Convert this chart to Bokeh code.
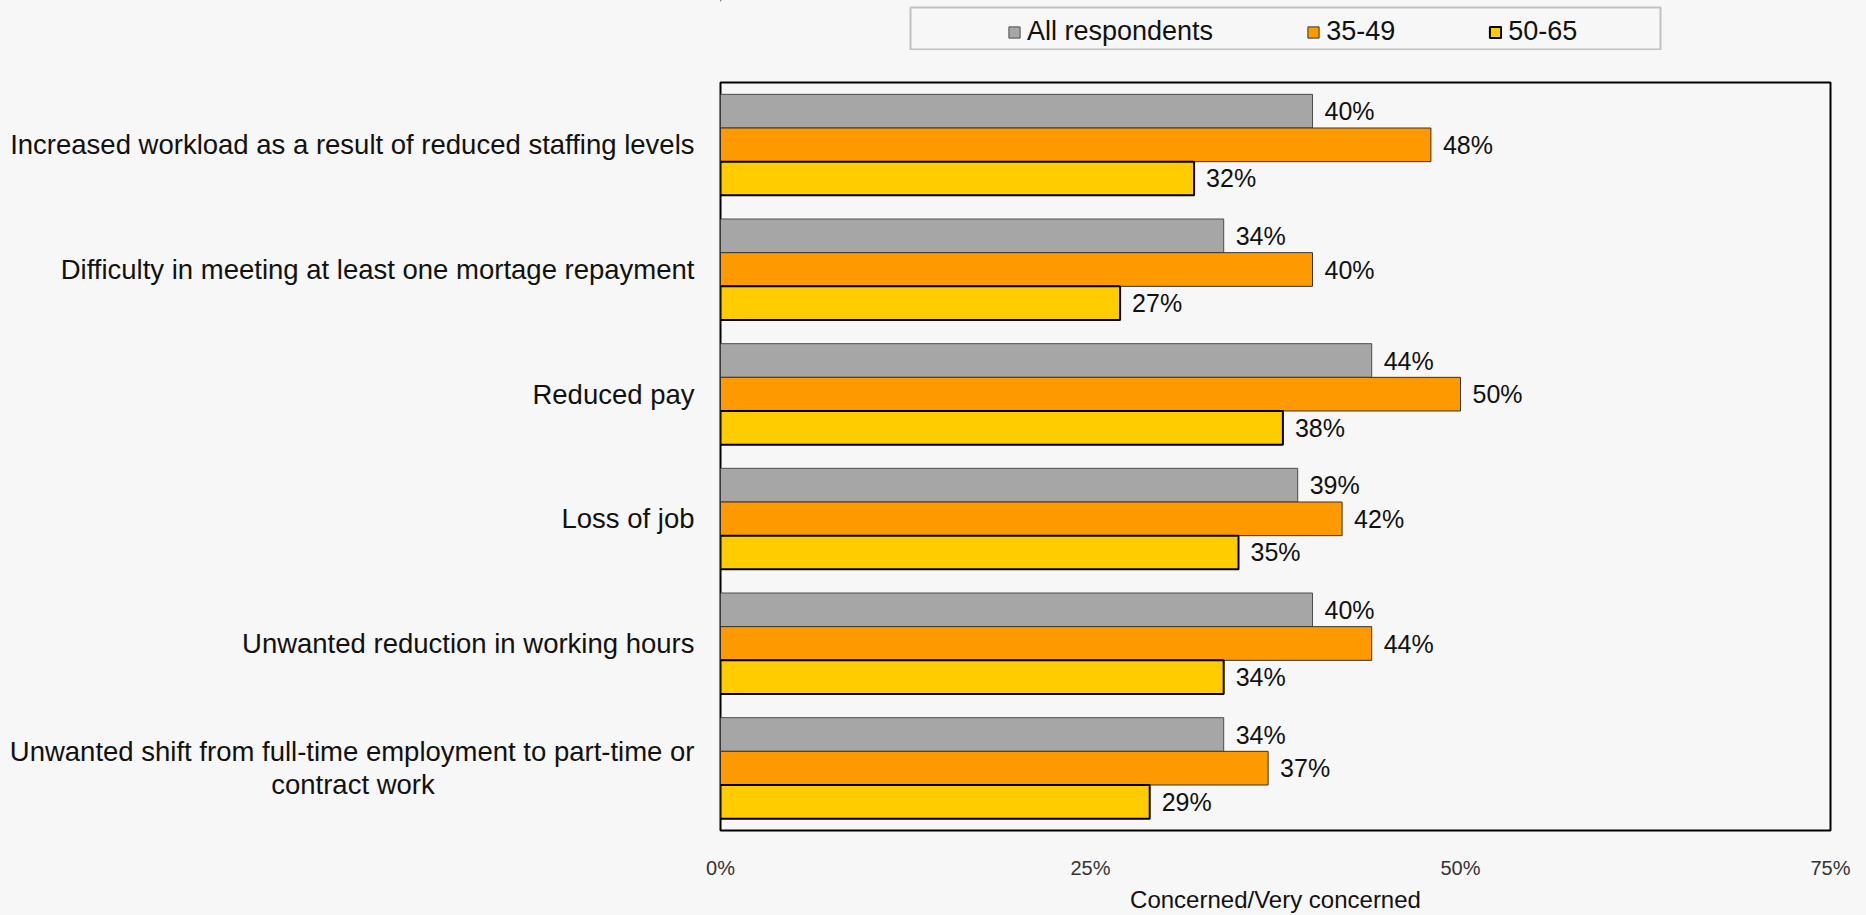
from bokeh.plotting import figure
from bokeh.layouts import column
from bokeh.models import (ColumnDataSource, FactorRange, Range1d, FixedTicker,
                          PrintfTickFormatter, LabelSet, Legend, LegendItem, BoxAnnotation)
from bokeh.core.properties import value
from bokeh.transform import dodge
from bokeh.embed import file_html
from bokeh.resources import INLINE

# ---------------- data ----------------
categories = [
    "Increased workload as a result of reduced staffing levels",
    "Difficulty in meeting at least one mortage repayment",
    "Reduced pay",
    "Loss of job",
    "Unwanted reduction in working hours",
    "Unwanted shift from full-time employment to part-time or\ncontract work",
]
series_names = ["All respondents", "35-49", "50-65"]
all_respondents = [40, 34, 44, 39, 40, 34]
age_35_49 = [48, 40, 50, 42, 44, 37]
age_50_65 = [32, 27, 38, 35, 34, 29]
x_ticks = [0, 25, 50, 75]
axis_title = "Concerned/Very concerned"

# ---------------- styles ----------------
FONT = "Liberation Sans"
BG = "#f7f7f7"
fills = ["#a6a6a6", "#ff9900", "#ffcc00"]
lines = ["#4d4d4d", "#333333", "#000000"]
line_widths = [1, 1, 2]
offsets = [0.27, 0.0, -0.27]
BAR_H = 0.27
NBSP = "\u00a0"
ZWSP = "\u200b"


def display_label(c):
    # centre a wrapped second line under the first one (labels are right-aligned)
    if "\n" in c:
        first, second = c.split("\n")
        return first + "\n" + second + NBSP * 34 + ZWSP
    return c


factors = [display_label(c) for c in categories]

keys = ["all", "a3549", "a5065"]
values = [all_respondents, age_35_49, age_50_65]
data = dict(cat=factors)
for k, v in zip(keys, values):
    data[k] = v
    data[k + "_lbl"] = [f"{x}%" for x in v]
src = ColumnDataSource(data)

# ---------------- main chart ----------------
p = figure(
    width=1866, height=865,
    y_range=FactorRange(factors=factors[::-1], range_padding=0),
    x_range=Range1d(0, 75),
    output_backend="svg", toolbar_location=None,
    min_border_left=720, min_border_right=36, min_border_top=32, min_border_bottom=10,
    background_fill_color=BG, border_fill_color=BG,
)
p.outline_line_color = "black"
p.outline_line_width = 2
p.xgrid.grid_line_color = None
p.ygrid.grid_line_color = None

ya = p.yaxis[0]
ya.axis_line_color = None
ya.major_tick_line_color = None
ya.minor_tick_line_color = None
ya.major_label_text_font = FONT
ya.major_label_text_font_size = "27.5px"
ya.major_label_text_color = "#111111"
ya.major_label_text_line_height = 1.06
ya.major_label_standoff = 20

xa = p.xaxis[0]
xa.ticker = FixedTicker(ticks=x_ticks)
xa.formatter = PrintfTickFormatter(format="%d%%")
xa.axis_line_color = None
xa.major_tick_line_color = None
xa.minor_tick_line_color = None
xa.major_label_text_font = FONT
xa.major_label_text_font_size = "20px"
xa.major_label_text_color = "#333333"
xa.major_label_standoff = 20
xa.axis_label = axis_title
xa.axis_label_text_font = FONT
xa.axis_label_text_font_size = "24px"
xa.axis_label_text_font_style = "normal"
xa.axis_label_text_color = "#111111"
xa.axis_label_standoff = 4

for k, fc, lc, lw, off in zip(keys, fills, lines, line_widths, offsets):
    p.hbar(y=dodge("cat", off, range=p.y_range), left=0, right=k, height=BAR_H,
           source=src, fill_color=fc, line_color=lc, line_width=lw)
    p.add_layout(LabelSet(x=k, y=dodge("cat", off, range=p.y_range), text=k + "_lbl",
                          source=src, x_offset=12, text_baseline="middle",
                          text_font=value(FONT), text_font_size="25px",
                          text_color="#111111"))

# ---------------- legend strip (pixel-mapped ranges) ----------------
lg = figure(
    width=1866, height=50, output_backend="svg", toolbar_location=None,
    x_axis_location=None, y_axis_location=None,
    min_border_left=720, min_border_right=36, min_border_top=0, min_border_bottom=0,
    background_fill_color=BG, border_fill_color=BG,
    x_range=Range1d(720, 1830), y_range=Range1d(50, 0),
)
lg.grid.visible = False
lg.outline_line_color = None
lg.add_layout(BoxAnnotation(left=910, right=1660, top=7, bottom=49,
                            fill_alpha=0, line_color="#444444", line_width=2))
# legend proxies: one far off-canvas bar each, only used to draw the legend swatches
proxy_src = ColumnDataSource(dict(y=[-10000], left=[-10000], right=[-9999]))
proxies = []
for fc, lc, lw in zip(fills, lines, line_widths):
    proxies.append(lg.hbar(y="y", right="right", left="left", height=1, source=proxy_src,
                           fill_color=fc, line_color=lc, line_width=lw))
legend = Legend(
    items=[LegendItem(label=n, renderers=[r]) for n, r in zip(series_names, proxies)],
    orientation="horizontal", location=(287, 3),
    glyph_width=14, glyph_height=14, label_standoff=6, spacing=93, padding=0, margin=0,
    border_line_alpha=0, background_fill_alpha=0,
    label_text_font=FONT, label_text_font_size="27px", label_text_color="#111111",
)
lg.add_layout(legend, "center")

layout = column(lg, p, spacing=0)
html = file_html(layout, INLINE)
html = html.replace("<body>", '<body style="background-color:#f7f7f7">')
open("out.html", "w").write(html)
